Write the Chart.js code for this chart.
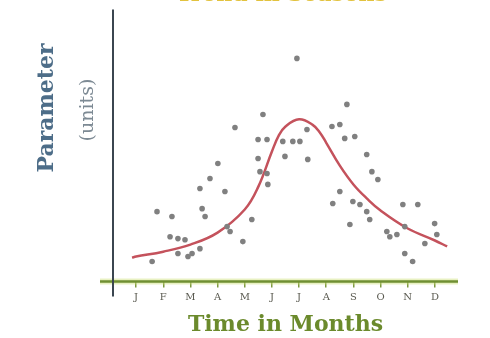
<!DOCTYPE html>
<html>
  <head>
    <script src="https://cdn.jsdelivr.net/npm/chart.js@4"></script>
    <style>
      body { margin: 0; background: #fff; overflow: hidden; }
      #wrap { position: absolute; left: 0; top: -20px; width: 490px; height: 358px; }
    </style>
  </head>

  <body>
    <div id="wrap">
      <canvas id="canvas"></canvas>
    </div>
    <script>
      const monthLabels = ['J', 'F', 'M', 'A', 'M', 'J', 'J', 'A', 'S', 'O', 'N', 'D'];

      // fitted curve (x = month number)
      const curveMonths = [0.85, 1, 2, 3, 4, 5, 5.5, 6, 6.25, 6.5, 7, 7.5, 7.75, 8, 8.5, 9, 9.5, 10, 11, 12, 12.45];
      const curveValues = [8.8, 9.2, 11.0, 13.6, 18.0, 26.5, 34.9, 47.8, 53.6, 57.0, 59.6, 57.6, 55.0, 51.0, 42.6, 35.7, 30.5, 26.1, 19.5, 15.1, 12.9];

      // measured points
      const pointMonths = [1.59, 1.77, 2.32, 2.25, 2.54, 2.80, 2.54, 2.91, 3.06, 3.35, 3.43, 3.54, 3.35, 3.72, 4.01,
        4.27, 4.35, 4.46, 4.93, 5.26, 4.64, 5.67, 5.49, 5.82, 5.49, 5.56, 5.82, 5.85, 6.40, 6.77, 7.03, 6.48, 7.29,
        7.32, 6.92, 8.76, 8.21, 8.50, 8.68, 9.05, 9.49, 9.68, 9.90, 8.50, 8.24, 8.98, 9.24, 8.87, 9.49, 9.60, 10.23,
        10.60, 10.89, 10.82, 11.37, 11.63, 10.89, 11.18, 11.99, 12.07, 10.34];
      const pointValues = [7.4, 25.7, 23.9, 16.5, 15.8, 15.4, 10.3, 9.2, 10.3, 12.1, 26.8, 23.9, 34.2, 37.9, 43.4,
        33.1, 20.2, 18.4, 14.7, 22.8, 56.6, 61.4, 52.2, 52.2, 45.2, 40.4, 39.7, 35.7, 51.5, 51.5, 51.5, 46.0, 55.9,
        44.9, 82.0, 65.1, 57.0, 57.7, 52.6, 53.3, 46.7, 40.4, 37.5, 33.1, 28.7, 29.4, 28.3, 21.0, 25.7, 22.8, 18.4,
        17.3, 20.2, 28.3, 28.3, 14.0, 10.3, 7.4, 21.3, 17.3, 16.5];

      const axisLines = {
        id: 'axisLines',
        beforeDatasetsDraw(chart) {
          const { ctx, chartArea: a } = chart;
          ctx.save();
          ctx.strokeStyle = 'rgba(205,225,120,0.45)';
          ctx.lineWidth = 6;
          ctx.beginPath();
          ctx.moveTo(100, a.bottom);
          ctx.lineTo(a.right, a.bottom);
          ctx.stroke();
          ctx.strokeStyle = '#6f8f32';
          ctx.lineWidth = 2.5;
          ctx.beginPath();
          ctx.moveTo(100, a.bottom);
          ctx.lineTo(a.right, a.bottom);
          ctx.stroke();
          ctx.strokeStyle = '#3b4650';
          ctx.lineWidth = 2;
          ctx.beginPath();
          ctx.moveTo(a.left, a.top);
          ctx.lineTo(a.left, a.bottom + 15);
          ctx.stroke();
          ctx.restore();
        },
      };

      const yTitles = {
        id: 'yTitles',
        afterDraw(chart) {
          const ctx = chart.ctx;
          ctx.save();
          ctx.textAlign = 'center';
          ctx.textBaseline = 'middle';
          ctx.translate(47, 128);
          ctx.rotate(-Math.PI / 2);
          ctx.font = 'bold 22px "DejaVu Serif"';
          ctx.fillStyle = '#4d6d88';
          ctx.fillText('Parameter', 0, 0);
          ctx.restore();
          ctx.save();
          ctx.textAlign = 'center';
          ctx.textBaseline = 'middle';
          ctx.translate(88, 130);
          ctx.rotate(-Math.PI / 2);
          ctx.font = '19px "DejaVu Serif"';
          ctx.fillStyle = '#7d8a94';
          ctx.fillText('(units)', 0, 0);
          ctx.restore();
        },
      };

      new Chart(document.getElementById('canvas').getContext('2d'), {
        type: 'scatter',
        data: {
          datasets: [
            {
              label: 'Fit',
              data: curveMonths.map((m, i) => ({ x: m, y: curveValues[i] })),
              showLine: true,
              borderColor: '#c4525c',
              borderWidth: 2.5,
              pointRadius: 0,
              tension: 0.4,
              order: 1,
            },
            {
              label: 'Measured',
              data: pointMonths.map((m, i) => ({ x: m, y: pointValues[i] })),
              backgroundColor: '#808080',
              borderWidth: 0,
              pointRadius: 2.8,
              order: 0,
            },
          ],
        },
        options: {
          responsive: true,
          maintainAspectRatio: false,
          animation: false,
          layout: { padding: { left: 105, right: 32, top: 0, bottom: 0 } },
          plugins: {
            legend: { display: false },
            tooltip: { enabled: false },
            title: {
              display: true,
              text: 'Trend in Seasons',
              color: '#e2c23e',
              font: { family: '"DejaVu Serif"', size: 22, weight: 'bold' },
              padding: { top: 2, bottom: 1 },
            },
          },
          scales: {
            x: {
              type: 'linear',
              min: 0.15,
              max: 12.85,
              border: { display: false },
              grid: { drawOnChartArea: false, tickLength: 6, tickColor: '#7f9a40', lineWidth: 1.5 },
              afterBuildTicks: (s) => { s.ticks = monthLabels.map((_, i) => ({ value: i + 1 })); },
              ticks: {
                autoSkip: false,
                maxRotation: 0,
                padding: 4,
                color: '#5a5a50',
                font: { family: '"DejaVu Serif"', size: 10 },
                callback: (v) => monthLabels[v - 1],
              },
              title: {
                display: true,
                text: 'Time in Months',
                color: '#6b8a2c',
                font: { family: '"DejaVu Serif"', size: 22, weight: 'bold' },
                padding: { top: 4, bottom: 0 },
              },
            },
            y: {
              min: 0,
              max: 100,
              border: { display: false },
              grid: { display: false },
              ticks: { display: false },
            },
          },
        },
        plugins: [axisLines, yTitles],
      });
    </script>
  </body>
</html>
